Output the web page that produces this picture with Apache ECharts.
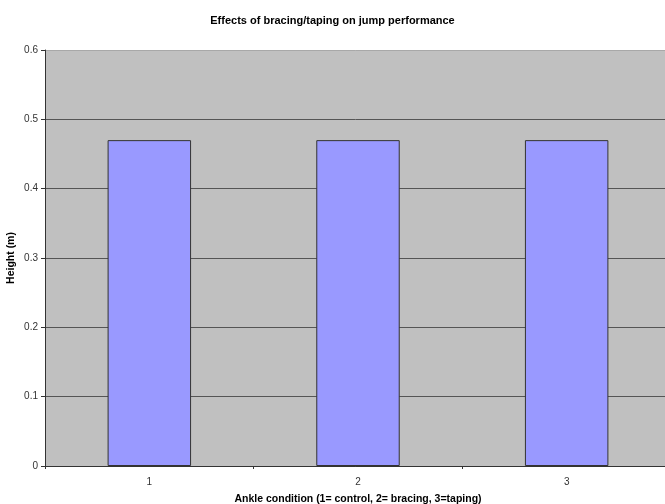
<!DOCTYPE html>
<html>
<head>
<meta charset="utf-8">
<script src="https://cdn.jsdelivr.net/npm/echarts@6/dist/echarts.min.js"></script>
<style>
  html, body { margin: 0; padding: 0; background: #fff; }
  #chart { width: 665px; height: 504px; }
</style>
</head>
<body>
<div id="chart"></div>
<script>
// Ankle condition categories and mean jump height (m)
const conditions = ['1', '2', '3'];
const jumpHeight = [0.47, 0.47, 0.47];
const heightTicks = [0, 0.1, 0.2, 0.3, 0.4, 0.5, 0.6];

const FONT = 'Liberation Sans, Arial, sans-serif';

const chart = echarts.init(document.getElementById('chart'), null, { renderer: 'canvas' });

chart.setOption({
  animation: false,
  backgroundColor: '#ffffff',
  title: {
    text: 'Effects of bracing/taping on jump performance',
    left: 'center',
    top: 10,
    textStyle: { fontFamily: FONT, fontSize: 11, fontWeight: 'bold', color: '#000' }
  },
  grid: {
    left: 45, right: -6, top: 50, bottom: 38,
    outerBoundsMode: 'none',
    containLabel: false,
    show: true,
    backgroundColor: '#c0c0c0',
    borderWidth: 0
  },
  xAxis: {
    type: 'category',
    data: conditions,
    name: 'Ankle condition (1= control, 2= bracing, 3=taping)',
    nameLocation: 'middle',
    nameGap: 28,
    nameTextStyle: { fontFamily: FONT, fontSize: 10.5, fontWeight: 'bold', color: '#000' },
    axisLine: { lineStyle: { color: '#333', width: 1 } },
    axisTick: { show: true, alignWithLabel: false, length: 3, lineStyle: { color: '#333' } },
    axisLabel: { fontFamily: FONT, fontSize: 10, color: '#333', margin: 11 },
    splitLine: { show: false }
  },
  yAxis: {
    type: 'value',
    min: heightTicks[0],
    max: heightTicks[heightTicks.length - 1],
    interval: 0.1,
    name: 'Height (m)',
    nameLocation: 'middle',
    nameGap: 28,
    nameMoveOverlap: false,
    nameRotate: 90,
    nameTextStyle: { fontFamily: FONT, fontSize: 10.5, fontWeight: 'bold', color: '#000' },
    axisLine: { show: true, lineStyle: { color: '#333', width: 1 } },
    axisTick: { show: true, length: 4, lineStyle: { color: '#333' } },
    axisLabel: {
      fontFamily: FONT, fontSize: 10, color: '#333', margin: 7,
      formatter: v => (Math.round(v * 10) / 10).toString()
    },
    splitLine: {
      show: true,
      lineStyle: {
        color: ['#333', '#555', '#555', '#555', '#555', '#555', '#a8a8a8'],
        width: 1
      }
    }
  },
  series: [{
    type: 'bar',
    data: jumpHeight,
    barWidth: '40%',
    itemStyle: { color: '#9999ff', borderColor: '#333', borderWidth: 1 }
  }]
});
</script>
</body>
</html>
